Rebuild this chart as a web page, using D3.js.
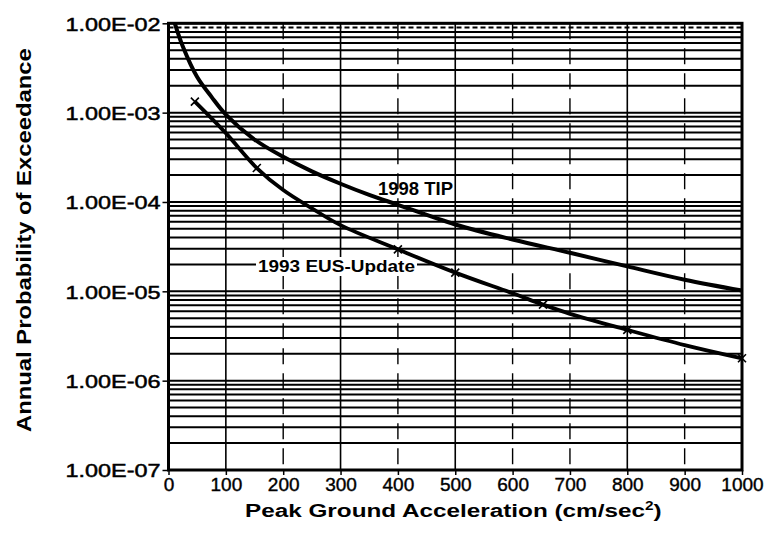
<!DOCTYPE html>
<html>
<head>
<meta charset="utf-8">
<script src="https://cdn.jsdelivr.net/npm/d3@7/dist/d3.min.js"></script>
<style>
  html, body { margin: 0; padding: 0; background: #fff; }
  svg { display: block; font-family: "Liberation Sans", Arial, sans-serif; }
</style>
</head>
<body>
<svg id="chart" width="772" height="535"></svg>
<script>
// Seismic hazard curves: annual probability of exceedance vs. peak ground acceleration
const tipPga   = [11, 25, 50, 75, 100, 150, 200, 250, 300, 350, 400, 500, 600, 700, 800, 900, 1000];
const tipProb  = [1.0e-2, 5.5e-3, 2.5e-3, 1.5e-3, 9.5e-4, 5.0e-4, 3.2e-4, 2.2e-4, 1.6e-4, 1.2e-4, 9.3e-5, 5.6e-5, 3.8e-5, 2.7e-5, 1.9e-5, 1.35e-5, 1.02e-5];

const eusPga   = [46, 100, 154, 200, 250, 300, 400, 500, 600, 653, 700, 800, 900, 1000];
const eusProb  = [1.33e-3, 5.9e-4, 2.4e-4, 1.36e-4, 8.5e-5, 5.5e-5, 2.95e-5, 1.62e-5, 9.5e-6, 7.1e-6, 5.6e-6, 3.7e-6, 2.5e-6, 1.78e-6];
const eusMarkIdx = [0, 2, 6, 7, 9, 11, 13];

const xTicks = [0, 100, 200, 300, 400, 500, 600, 700, 800, 900, 1000];
const yTicks = [1e-7, 1e-6, 1e-5, 1e-4, 1e-3, 1e-2];
const yTickLabels = ["1.00E-07", "1.00E-06", "1.00E-05", "1.00E-04", "1.00E-03", "1.00E-02"];
const solidVert = [100, 300, 500, 800];

const seriesLabels = ["1998 TIP", "1993 EUS-Update"];
const xTitle = "Peak Ground Acceleration (cm/sec";
const yTitle = "Annual Probability of Exceedance";

const svg = d3.select("#chart");
const L = 168.5, R = 742, T = 23.3, B = 470;
const FONT = "'Liberation Sans', Arial, sans-serif";

const x = d3.scaleLinear().domain([0, 1000]).range([L, R]);
const y = d3.scaleLog().domain([1e-7, 1e-2]).range([B, T]);

// horizontal grid: every 1..9 x 10^k
const hLines = [];
for (let e = -7; e < -2; e++) for (let k = 1; k <= 9; k++) hLines.push(k * Math.pow(10, e));
hLines.push(1e-2);

const grid = svg.append("g");
grid.selectAll("line.h").data(hLines).join("line")
  .attr("class", "h")
  .attr("x1", L).attr("x2", R)
  .attr("y1", d => y(d)).attr("y2", d => y(d))
  .attr("stroke", "#000")
  .attr("stroke-width", 2)
  .attr("stroke-dasharray", d => (d > 8.5e-3 && d < 9.5e-3) ? "5,3" : null);

grid.selectAll("line.v").data(xTicks.slice(1, -1)).join("line")
  .attr("class", "v")
  .attr("x1", d => x(d)).attr("x2", d => x(d))
  .attr("y1", T).attr("y2", B)
  .attr("stroke", "#000")
  .attr("stroke-width", d => solidVert.includes(d) ? 1.6 : 1.4)
  .attr("stroke-dasharray", d => solidVert.includes(d) ? null : "16,9");

// axes
const xAxis = d3.axisBottom(x).tickValues(xTicks).tickSize(5).tickFormat(d3.format("d"));
const gx = svg.append("g").attr("transform", `translate(0,${B})`).call(xAxis);
gx.select(".domain").remove();
gx.selectAll(".tick line").attr("stroke", "#000").attr("stroke-width", 1.5);
gx.selectAll(".tick text")
  .attr("y", 21).attr("dy", 0)
  .attr("font-size", 19).attr("fill", "#000")
  .attr("stroke", "#000").attr("stroke-width", 0.4)
  .attr("font-family", FONT);

const yAxis = d3.axisLeft(y).tickValues(yTicks).tickSize(6)
  .tickFormat((d, i) => yTickLabels[i]);
const gy = svg.append("g").attr("transform", `translate(${L},0)`).call(yAxis);
gy.select(".domain").remove();
gy.selectAll(".tick line").attr("stroke", "#000").attr("stroke-width", 1.5);
gy.selectAll(".tick text")
  .attr("x", -8).attr("dy", "0.36em")
  .attr("font-size", 19).attr("fill", "#000")
  .attr("stroke", "#000").attr("stroke-width", 0.5)
  .attr("font-family", FONT)
  .attr("textLength", 95).attr("lengthAdjust", "spacingAndGlyphs");

// plot frame
svg.append("rect")
  .attr("x", L).attr("y", T).attr("width", R - L).attr("height", B - T)
  .attr("fill", "none").attr("stroke", "#000").attr("stroke-width", 3);

// stretch a text element horizontally to a target width around its anchor
function fitWidth(sel, target, ax, ay) {
  const w = sel.node().getBBox().width;
  const s = target / w;
  sel.attr("transform", `translate(${ax},${ay}) scale(${s},1)`);
}

// series labels (white box hides the grid behind the lower one)
svg.append("rect")
  .attr("x", 256).attr("y", 257).attr("width", 161).attr("height", 19)
  .attr("fill", "#fff");
const lab2 = svg.append("text")
  .attr("font-size", 17).attr("font-weight", "bold").attr("fill", "#000")
  .text(seriesLabels[1]);
fitWidth(lab2, 157, 258, 272);

const lab1 = svg.append("text")
  .attr("font-size", 18).attr("font-weight", "bold").attr("fill", "#000")
  .text(seriesLabels[0]);
fitWidth(lab1, 75, 378, 195);

// curves
const line = d3.line()
  .x(d => x(d[0])).y(d => y(d[1]))
  .curve(d3.curveCatmullRom.alpha(0.5));

const tip = tipPga.map((p, i) => [p, tipProb[i]]);
const eus = eusPga.map((p, i) => [p, eusProb[i]]);

svg.append("path").datum(tip).attr("d", line)
  .attr("fill", "none").attr("stroke", "#000").attr("stroke-width", 4)
  .attr("stroke-linejoin", "round");
svg.append("path").datum(eus).attr("d", line)
  .attr("fill", "none").attr("stroke", "#000").attr("stroke-width", 3.8)
  .attr("stroke-linejoin", "round");

// x markers on the EUS curve
const marks = eusMarkIdx.map(i => eus[i]);
svg.append("g").selectAll("path").data(marks).join("path")
  .attr("transform", d => `translate(${x(d[0])},${y(d[1])})`)
  .attr("d", "M-4,-4L4,4M-4,4L4,-4")
  .attr("stroke", "#000").attr("stroke-width", 1.6).attr("fill", "none");

// axis titles
const xt = svg.append("text")
  .attr("font-size", 19).attr("font-weight", "bold").attr("fill", "#000")
  .attr("text-anchor", "start");
xt.append("tspan").text(xTitle);
xt.append("tspan").attr("font-size", 12).attr("dy", -7).text("2");
xt.append("tspan").attr("dy", 7).text(")");
fitWidth(xt, 417, 245, 517);

const yt = svg.append("text")
  .attr("font-size", 20).attr("font-weight", "bold").attr("fill", "#000")
  .attr("text-anchor", "start")
  .text(yTitle);
const yw = yt.node().getBBox().width;
yt.attr("transform", `translate(31,432) rotate(-90) scale(${384 / yw},1)`);
</script>
</body>
</html>
